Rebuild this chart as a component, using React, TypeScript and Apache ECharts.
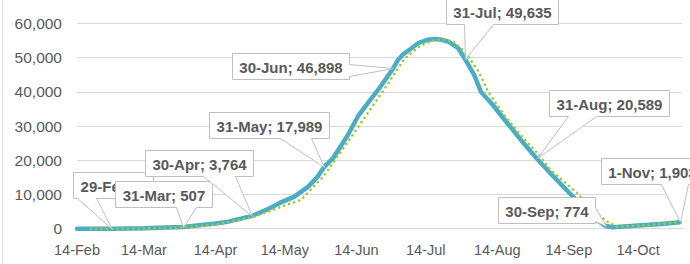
import React, { useEffect, useRef } from "react";
import * as echarts from "echarts";

// ---- data ----
const actualDates = ["14-Feb","29-Feb","14-Mar","31-Mar","14-Apr","19-Apr","30-Apr","7-May","12-May","18-May","24-May","28-May","31-May","4-Jun","10-Jun","15-Jun","20-Jun","24-Jun","30-Jun","2-Jul","4-Jul","8-Jul","11-Jul","15-Jul","18-Jul","21-Jul","24-Jul","28-Jul","31-Jul","4-Aug","7-Aug","12-Aug","19-Aug","26-Aug","31-Aug","6-Sep","15-Sep","25-Sep","30-Sep","3-Oct","14-Oct","24-Oct","1-Nov"];
const actualValues = [0,0,100,507,1500,2000,3764,5800,7600,9300,12200,15000,17989,20700,27000,33200,37600,41100,46898,49300,50800,52800,54300,55200,55400,55200,54600,52800,49635,44900,39900,36200,30300,24500,20589,16200,9900,3000,774,400,900,1400,1903];

const trendDates = ["20-Feb","14-Mar","31-Mar","14-Apr","30-Apr","14-May","21-May","31-May","12-Jun","25-Jun","5-Jul","12-Jul","17-Jul","21-Jul","26-Jul","31-Jul","6-Aug","10-Aug","17-Aug","24-Aug","31-Aug","6-Sep","18-Sep","23-Sep","1-Oct","5-Oct","14-Oct","24-Oct","1-Nov"];
const trendValues = [0,50,400,1200,3300,6800,8400,15500,27000,39700,49800,53600,54900,55400,54600,51700,45800,40000,33200,27400,22400,17200,10200,6100,1900,600,900,1400,1900];

const calloutDates = ["29-Feb","31-Mar","30-Apr","31-May","30-Jun","31-Jul","31-Aug","30-Sep","1-Nov"];
const calloutValues = [0,507,3764,17989,46898,49635,20589,774,1903];

const yTicks = [0,10000,20000,30000,40000,50000,60000];

// ---- layout of callouts (pixel offsets from their point) ----
// side bottom: dx = box left; side right: dx = box right; b1,b2 along edge
const calloutLayout = [
  { side: "bottom", dx: -40, dy: -57, b1: 4, b2: 23 },
  { side: "bottom", dx: -69, dy: -46, b1: 61, b2: 81 },
  { side: "bottom", dx: -108, dy: -66, b1: 58, b2: 90 },
  { side: "bottom", dx: -116, dy: -55, b1: 71, b2: 102 },
  { side: "right", dx: -45, dy: -15, b1: 11, b2: 23 },
  { side: "bottom", dx: -20, dy: -61, b1: 18, b2: 47 },
  { side: "bottom", dx: 11, dy: -68, b1: 19, b2: 47 },
  { side: "right", dx: -12, dy: -29, b1: 10, b2: 24 },
  { side: "bottom", dx: -80, dy: -64, b1: 60, b2: 87 },
];

const MONTHS = ["Jan","Feb","Mar","Apr","May","Jun","Jul","Aug","Sep","Oct","Nov","Dec"];
function buildDays(): string[] {
  const out: string[] = [];
  const start = Date.UTC(2020, 1, 14);
  const end = Date.UTC(2020, 10, 2);
  for (let t = start; t <= end; t += 86400000) {
    const d = new Date(t);
    out.push(d.getUTCDate() + "-" + MONTHS[d.getUTCMonth()]);
  }
  return out;
}

const fmt = (v: number) => v.toLocaleString("en-US");
const LABEL_FAMILY = '"Liberation Sans", Arial, sans-serif';
const LABEL_SIZE = 15;

export default function App() {
  const ref = useRef<HTMLDivElement>(null);
  useEffect(() => {
    document.body.style.margin = "0";
    if (!ref.current) return;
    const chart = echarts.init(ref.current, undefined, { renderer: "svg" });
    const days = buildDays();
    const canvas = document.createElement("canvas");
    const ctx = canvas.getContext("2d")!;
    ctx.font = `bold ${LABEL_SIZE}px ${LABEL_FAMILY}`;

    const gridColor = "#d9d9d9";
    const textColor = "#595959";

    chart.setOption({
      animation: false,
      backgroundColor: "#ffffff",
      grid: { left: 77, right: 8, top: 23.3, bottom: 35.3, containLabel: false, outerBoundsMode: "none" },
      xAxis: {
        type: "category",
        data: days,
        boundaryGap: false,
        axisTick: { show: false },
        axisLine: { show: true, lineStyle: { color: gridColor, width: 1 } },
        axisLabel: {
          interval: (i: number, v: string) => v.startsWith("14-"),
          color: textColor,
          fontSize: 14.5,
          fontFamily: LABEL_FAMILY,
          margin: 14,
        },
        splitLine: { show: false },
      },
      yAxis: {
        type: "value",
        min: yTicks[0],
        max: yTicks[yTicks.length - 1],
        interval: 10000,
        axisLine: { show: false },
        axisTick: { show: false },
        axisLabel: { formatter: (v: number) => fmt(v), color: textColor, fontSize: 15.5, fontFamily: LABEL_FAMILY, margin: 15 },
        splitLine: { lineStyle: { color: gridColor, width: 1 } },
      },
      graphic: [
        { type: "line", shape: { x1: 2.5, y1: 0, x2: 2.5, y2: 264 }, style: { stroke: gridColor, lineWidth: 1 } },
      ],
      series: [
        {
          type: "line",
          name: "Actual",
          data: actualDates.map((d, i) => [d, actualValues[i]]),
          showSymbol: false,
          smooth: false,
          lineStyle: { color: "#4BACC6", width: 4.5, cap: "round", join: "round" },
          z: 2,
        },
        {
          type: "line",
          name: "Trend",
          data: trendDates.map((d, i) => [d, trendValues[i]]),
          showSymbol: false,
          smooth: false,
          lineStyle: { color: "#9BCB3B", width: 2.6, type: [0.1, 5.2], cap: "round", join: "round" },
          z: 3,
        },
        {
          type: "custom",
          name: "Callouts",
          clip: false,
          z: 10,
          data: calloutDates.map((d, i) => [d, calloutValues[i]]),
          encode: { x: 0, y: 1 },
          renderItem: (params: any, api: any) => {
            const idx = params.dataIndex;
            const pt = api.coord([api.value(0), api.value(1)]);
            const lay = calloutLayout[idx];
            const text = calloutDates[idx] + "; " + fmt(calloutValues[idx]);
            const w = Math.round(ctx.measureText(text).width + 14);
            const h = 26;
            const px = Math.round(pt[0]) + 0.5;
            const py = Math.round(pt[1]) + 0.5;
            let L: number;
            if (lay.side === "right") L = px + lay.dx - w; else L = px + lay.dx;
            L = Math.round(L) + 0.5;
            const T = Math.round(pt[1] + lay.dy) + 0.5;
            const R = L + w;
            const B = T + h;
            let pts: number[][];
            if (lay.side === "bottom") {
              pts = [[L, T], [R, T], [R, B], [L + lay.b2, B], [px, py], [L + lay.b1, B], [L, B]];
            } else {
              pts = [[L, T], [R, T], [R, T + lay.b1], [px, py], [R, T + lay.b2], [R, B], [L, B]];
            }
            return {
              type: "group",
              children: [
                { type: "polygon", shape: { points: pts }, style: { fill: "#ffffff", stroke: "#bfbfbf", lineWidth: 1 } },
                {
                  type: "text",
                  x: (L + R) / 2,
                  y: T + h / 2 + 0.5,
                  style: {
                    text,
                    fill: textColor,
                    fontSize: LABEL_SIZE,
                    fontWeight: "bold",
                    fontFamily: LABEL_FAMILY,
                    align: "center",
                    verticalAlign: "middle",
                  },
                },
              ],
            };
          },
        },
      ],
    });
    return () => chart.dispose();
  }, []);
  return <div ref={ref} style={{ width: 690, height: 264 }} />;
}
